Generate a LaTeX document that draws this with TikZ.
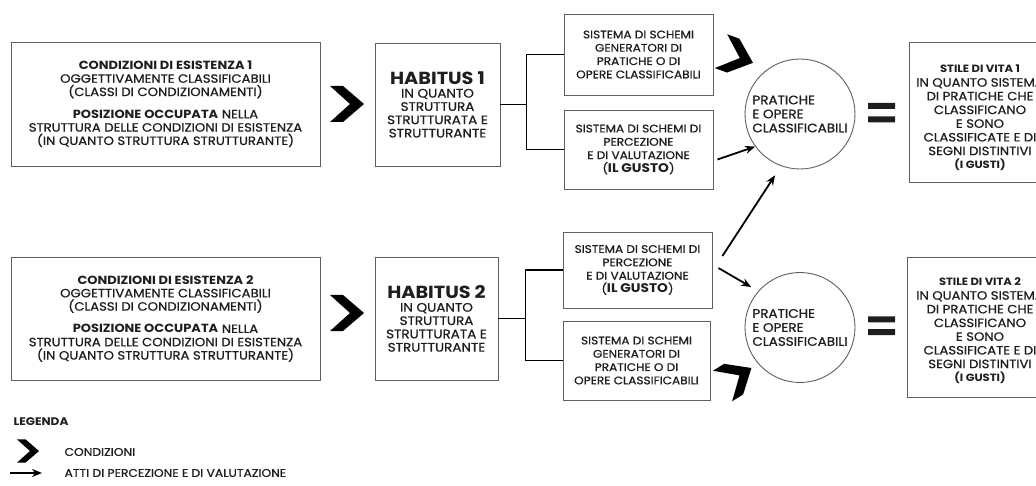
\documentclass[tikz,border=0pt]{standalone}
\usepackage{fontspec}
\setmainfont{Poppins}[UprightFeatures={FakeStretch=1.1, FakeBold=0.8}, BoldFeatures={FakeStretch=1.1}]
\usetikzlibrary{arrows, arrows.meta}
\definecolor{inkgray}{RGB}{30, 30, 30}
\definecolor{framegray}{RGB}{95, 95, 95}
\newcommand{\hdsize}[2]{{\fontsize{#1}{12}\selectfont\bfseries #2}}

\begin{document}
\begin{tikzpicture}[x=1pt, y=-1pt,
    box/.style={draw=framegray, line width=0.9pt, align=center, inner sep=0pt, text=inkgray},
    condtext/.style={font=\fontsize{12}{13.3}\selectfont},
    habtext/.style={font=\fontsize{12.3}{13.3}\selectfont},
    schtext/.style={font=\fontsize{11}{13.3}\selectfont},
    stiletext/.style={font=\fontsize{12}{13.7}\selectfont},
    practice/.style={circle, draw=framegray, line width=0.9pt, minimum size=110, inner sep=0pt, align=left, text=inkgray, font=\fontsize{12.3}{14}\selectfont},
    legtext/.style={anchor=west, text=inkgray, font=\fontsize{11.2}{12}\selectfont},
    branch/.style={line width=1.8pt, black},
    act/.style={line width=1.8pt, black, -{Stealth[length=10pt, width=8pt]}},
    chevron/.pic={\fill[black] (-17,-18) -- (-4,-18) -- (17,0) -- (-4,18) -- (-17,18) -- (3,0) -- cycle;}]
    \path[use as bounding box, fill=white] (0,0) rectangle (1036,486);

    % riga 1
    \node[box, condtext, minimum width=309, minimum height=124] (cond1) at (165.5,104)
        {\hdsize{11.8}{CONDIZIONI DI ESISTENZA 1}\\OGGETTIVAMENTE CLASSIFICABILI\\(CLASSI DI CONDIZIONAMENTI)\\[9pt]
         \hdsize{11.8}{POSIZIONE OCCUPATA} NELLA\\STRUTTURA DELLE CONDIZIONI DI ESISTENZA\\(IN QUANTO STRUTTURA STRUTTURANTE)};
    \pic at (347,104) {chevron};
    \node[box, habtext, minimum width=125, minimum height=123] (hab1) at (437.5,104.5)
        {\hdsize{17.5}{HABITUS 1}\\IN QUANTO\\STRUTTURA\\STRUTTURATA E\\STRUTTURANTE};
    \node[box, schtext, minimum width=149, minimum height=81] (gen1) at (638.5,54.5)
        {SISTEMA DI SCHEMI\\GENERATORI DI\\PRATICHE O DI\\OPERE CLASSIFICABILI};
    \node[box, schtext, minimum width=149, minimum height=79] (perc1) at (638.5,149.5)
        {SISTEMA DI SCHEMI DI\\PERCEZIONE\\E DI VALUTAZIONE\\(\hdsize{12.5}{IL GUSTO})};
    \node[practice] (prat1) at (800,114) {PRATICHE\\E OPERE\\CLASSIFICABILI};
    \node[box, stiletext, minimum width=142, minimum height=140] (stile1) at (980,112)
        {\rule{0pt}{20pt}\hdsize{10.5}{STILE DI VITA 1}\\IN QUANTO SISTEMA\\DI PRATICHE CHE\\CLASSIFICANO\\E SONO\\CLASSIFICATE E DI\\SEGNI DISTINTIVI\\\hdsize{10.5}{(I GUSTI)}};
    \coordinate (eq1) at (881.5,112.5);

    % riga 2
    \node[box, condtext, minimum width=309, minimum height=123] (cond2) at (165.5,318.5)
        {\hdsize{11.8}{CONDIZIONI DI ESISTENZA 2}\\OGGETTIVAMENTE CLASSIFICABILI\\(CLASSI DI CONDIZIONAMENTI)\\[9pt]
         \hdsize{11.8}{POSIZIONE OCCUPATA} NELLA\\STRUTTURA DELLE CONDIZIONI DI ESISTENZA\\(IN QUANTO STRUTTURA STRUTTURANTE)};
    \pic at (347,313) {chevron};
    \node[box, habtext, minimum width=123, minimum height=123] (hab2) at (436.5,318.5)
        {\hdsize{17.5}{HABITUS 2}\\IN QUANTO\\STRUTTURA\\STRUTTURATA E\\STRUTTURANTE};
    \node[box, schtext, minimum width=149, minimum height=76] (perc2) at (637.5,270)
        {SISTEMA DI SCHEMI DI\\PERCEZIONE\\E DI VALUTAZIONE\\(\hdsize{12.5}{IL GUSTO})};
    \node[box, schtext, minimum width=147, minimum height=79] (gen2) at (636.5,360.5)
        {SISTEMA DI SCHEMI\\GENERATORI DI\\PRATICHE O DI\\OPERE CLASSIFICABILI};
    \node[practice] (prat2) at (800,327.5) {PRATICHE\\E OPERE\\CLASSIFICABILI};
    \node[box, stiletext, minimum width=146, minimum height=140] (stile2) at (980,327)
        {\rule{0pt}{16pt}\hdsize{10.5}{STILE DI VITA 2}\\IN QUANTO SISTEMA\\DI PRATICHE CHE\\CLASSIFICANO\\E SONO\\CLASSIFICATE E DI\\SEGNI DISTINTIVI\\\hdsize{10.5}{(I GUSTI)}};
    \coordinate (eq2) at (881.5,326);

    % diramazioni
    \draw[branch] (hab1.east) -- ++(26,0) coordinate (fork1);
    \draw[branch] (gen1.west) -| (fork1) |- (perc1.west);
    \draw[branch] (hab2.east) -- ++(27,0) coordinate (fork2);
    \draw[branch] (perc2.west) -| (fork2) |- (gen2.west);

    % condizioni e atti
    \pic[rotate=-20] at (737,57) {chevron};
    \pic[rotate=32] at (737,377) {chevron};
    \draw[act] ([shift={(4,10)}]perc1.east) -- (prat1.216);
    \draw[act, shorten >=11pt] ([shift={(10,-14)}]perc2.east) -- (prat1.250);
    \draw[act, shorten >=8pt] ([shift={(6,-2)}]perc2.east) -- (prat2.139);

    % uguale
    \fill[inkgray] ([shift={(-13.5,-9.5)}]eq1) rectangle ++(27,6)
                   ([shift={(-13.5,4)}]eq1) rectangle ++(27,6);
    \fill[inkgray] ([shift={(-13.5,-9.5)}]eq2) rectangle ++(27,6)
                   ([shift={(-13.5,3)}]eq2) rectangle ++(27,6);

    % legenda
    \node[legtext, font=\fontsize{11}{12}\selectfont\bfseries] (legenda) at (10,422) {LEGENDA};
    \pic[scale=0.65] at (28,451) {chevron};
    \node[legtext] (legcond) at (61,452) {CONDIZIONI};
    \node[legtext] (legatti) at (61,473) {ATTI DI PERCEZIONE E DI VALUTAZIONE};
    \coordinate (legstart) at (10,473);
    \draw[act] (legstart) -- ([xshift=-19]legatti.west);
\end{tikzpicture}
\end{document}
